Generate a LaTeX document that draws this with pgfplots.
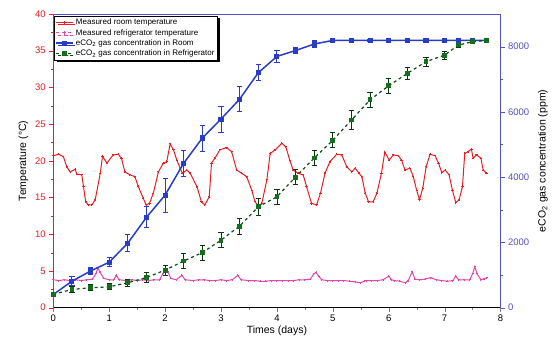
\documentclass[border=0pt]{standalone}
\usepackage{pgfplots}
\pgfplotsset{compat=1.18}
\usepackage{fontspec}
\setmainfont{Liberation Sans}
\usetikzlibrary{shadows}
\definecolor{tred}{RGB}{232,30,36}
\definecolor{tpink}{RGB}{226,70,170}
\definecolor{tblue}{RGB}{40,60,200}
\definecolor{tgreen}{RGB}{20,110,30}
\definecolor{axblue}{RGB}{80,80,205}
\begin{document}
\begin{tikzpicture}
\pgfplotsset{every axis/.append style={width=447.2pt,height=293.7pt,scale only axis,
  xmin=0,xmax=8, font=\fontsize{9.5}{10}\selectfont,
  /pgf/number format/assume math mode=true, tick align=outside,
  axis line style={-}, major tick length=4pt, minor tick length=2.5pt,
  label style={font=\fontsize{10.5}{12}\selectfont}}}
\begin{axis}[axis x line*=bottom, axis y line*=left,
  ymin=0, ymax=40, ytick={0,5,...,40}, xtick={0,...,8},
  minor x tick num=1, minor y tick num=1,
  y axis line style={tred}, ytick style={tred}, yticklabel style={tred},
  x axis line style={black},
  ylabel={Temperature (°C)}, xlabel={Times (days)},
  xlabel style={yshift=3pt}]
\addplot[tred, line width=1pt, mark=+, mark size=1.1pt] table {
0 20.67
0.09 20.9
0.18 20.57
0.24 19.2
0.30 18.5
0.39 18.85
0.42 18.2
0.51 18.1
0.54 16.5
0.58 14.4
0.63 14.0
0.69 14.0
0.75 14.7
0.84 18.3
0.88 20.6
0.96 19.7
1.07 20.8
1.16 20.9
1.22 20.35
1.28 18.5
1.37 18.1
1.46 17.85
1.52 16.5
1.61 14.9
1.66 14.0
1.72 14.2
1.79 15.6
1.88 18.5
1.97 19.7
2.03 19.9
2.09 22.3
2.15 21.5
2.21 20.1
2.27 19.0
2.31 18.3
2.39 18.75
2.45 18.3
2.57 16.5
2.65 14.4
2.71 14.0
2.79 15.1
2.83 19.7
2.89 20.35
2.98 21.5
3.10 21.8
3.19 21.25
3.28 18.75
3.37 18.3
3.46 17.85
3.55 16.0
3.61 14.4
3.67 13.85
3.73 14.2
3.82 17.4
3.88 21.0
3.97 21.5
4.09 22.4
4.16 21.9
4.23 20.1
4.29 18.75
4.38 18.3
4.47 18.1
4.53 16.5
4.62 14.2
4.71 14.0
4.78 15.6
4.86 18.3
4.95 19.9
5.07 20.9
5.16 20.8
5.25 19.2
5.34 18.5
5.40 19.0
5.47 18.3
5.52 17.85
5.58 15.6
5.64 14.4
5.72 14.4
5.79 15.6
5.87 18.3
5.93 21.2
6.01 20.1
6.08 20.8
6.17 20.7
6.23 20.1
6.29 18.75
6.38 19.0
6.44 17.85
6.50 16.0
6.55 14.7
6.61 16.3
6.67 19.2
6.74 20.9
6.83 20.7
6.89 19.7
6.95 18.4
7.01 18.75
7.08 18.1
7.14 16.0
7.20 14.3
7.26 14.7
7.32 16.5
7.36 21.0
7.42 21.25
7.48 21.6
7.51 20.35
7.57 20.8
7.65 20.35
7.69 18.75
7.75 18.3
};
\addplot[tpink, line width=1pt, mark=+, mark size=1pt] table {
0 3.8
0.1 3.7
0.2 3.8
0.3 3.7
0.4 3.8
0.5 3.7
0.6 3.8
0.7 3.9
0.76 4.6
0.8 5.4
0.84 4.8
0.9 4.0
1.0 3.8
1.08 3.8
1.13 4.4
1.18 3.8
1.3 3.7
1.4 3.8
1.5 3.7
1.6 3.8
1.7 3.7
1.8 3.8
1.9 3.8
1.96 4.6
2.0 5.3
2.05 4.9
2.1 4.0
2.2 3.8
2.3 4.4
2.36 3.8
2.5 3.7
2.6 3.8
2.7 3.8
2.8 3.7
2.9 3.7
3.0 3.8
3.1 3.7
3.2 3.8
3.3 4.4
3.36 3.8
3.5 3.7
3.6 3.7
3.7 3.6
3.8 3.6
3.9 3.7
4.0 3.7
4.1 3.7
4.2 3.7
4.3 3.7
4.4 3.8
4.5 3.8
4.6 3.9
4.66 4.6
4.7 4.8
4.76 4.2
4.8 3.8
4.9 3.7
5.0 3.7
5.1 3.7
5.2 3.7
5.3 3.6
5.4 3.5
5.5 3.4
5.56 3.6
5.6 3.7
5.7 3.7
5.8 3.7
5.9 3.8
6.0 4.3
6.05 3.8
6.1 3.7
6.2 3.6
6.3 3.4
6.35 3.7
6.42 4.9
6.47 3.9
6.55 3.8
6.65 3.9
6.75 4.1
6.85 3.8
6.95 3.7
7.05 3.6
7.15 3.7
7.2 4.3
7.25 3.8
7.35 3.8
7.45 3.8
7.5 4.6
7.54 5.6
7.58 4.6
7.65 3.8
7.7 3.9
7.75 4.1
};
\end{axis}
\begin{axis}[axis y line*=right, axis x line*=top, xtick=\empty, minor x tick num=0,
  ymin=0, ymax=9000, ytick={0,2000,...,8000}, minor y tick num=1,
  scaled y ticks=false, /pgf/number format/1000 sep={},
  axis line style={axblue}, ytick style={axblue}, yticklabel style={axblue},
  ylabel={eCO\textsubscript{2} gas concentration (ppm)},
  ylabel style={yshift=-2pt},
  legend cell align=left,
  legend style={at={(0.002,0.994)}, anchor=north west, draw=black, fill=white,
    font=\fontsize{8}{9}\selectfont, inner sep=1pt, row sep=-1pt,
    drop shadow={shadow xshift=2.2pt, shadow yshift=-2.2pt, fill=black, opacity=1}}]
\addlegendimage{tred, line width=1pt, mark=+, mark size=1.6pt}
\addlegendentry{Measured room temperature}
\addlegendimage{tpink, dashed, line width=1pt, mark=+, mark size=1.6pt, mark options={solid}}
\addlegendentry{Measured refrigerator temperature}
\addplot[tblue, line width=1.5pt, mark=square*, mark size=1.8pt, mark options={solid},
  error bars/.cd, y dir=both, y explicit,
  error bar style={tblue, line width=0.9pt},
  error mark options={tblue, mark size=2.6pt, line width=0.9pt, rotate=90}]
  table[x=t, y=c, y error=e] {
t c e
0 405 70
0.333 810 135
0.667 1125 110
1.0 1395 135
1.333 1980 270
1.667 2770 320
2.0 3450 520
2.333 4430 400
2.667 5200 400
3.0 5780 400
3.333 6390 380
3.667 7200 250
4.0 7700 170
4.333 7880 100
4.667 8080 100
5.0 8190 40
5.333 8190 30
5.667 8190 30
6.0 8190 30
6.333 8190 30
6.667 8190 30
7.0 8190 30
7.25 8190 30
7.5 8190 30
7.75 8190 30
};
\addlegendentry{eCO\textsubscript{2}\ gas concentration in Room}
\addplot[tgreen!70!black, dashed, line width=1.2pt, mark=square*, mark size=1.8pt,
  mark options={solid, tgreen, fill=tgreen},
  error bars/.cd, y dir=both, y explicit,
  error bar style={tgreen!50!black, solid, line width=0.8pt},
  error mark options={tgreen!50!black, mark size=2.6pt, line width=0.8pt, rotate=90}]
  table[x=t, y=c, y error=e] {
t c e
0 405 40
0.333 560 100
0.667 610 90
1.0 640 90
1.333 765 110
1.667 925 160
2.0 1150 160
2.333 1430 230
2.667 1690 230
3.0 2070 230
3.333 2500 250
3.667 3090 250
4.0 3400 230
4.333 4000 230
4.667 4590 230
5.0 5130 230
5.333 5750 300
5.667 6370 240
6.0 6800 240
6.333 7180 190
6.667 7540 140
7.0 7740 120
7.25 8050 60
7.5 8150 30
7.75 8190 20
};
\addlegendentry{eCO\textsubscript{2}\ gas concentration in Refrigerator}
\end{axis}
\pgfresetboundingbox
\path[use as bounding box] ([xshift=-53.3pt,yshift=-33.3pt]current axis.south west) rectangle ([xshift=52.5pt,yshift=14pt]current axis.north east);
\end{tikzpicture}
\end{document}
